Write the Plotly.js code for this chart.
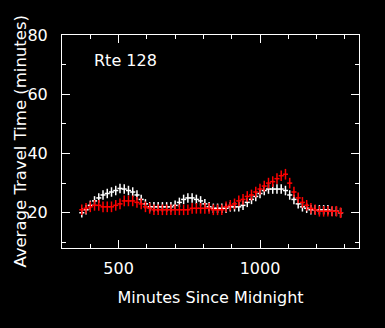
<!DOCTYPE html>
<html>
<head>
<meta charset="utf-8">
<script src="https://cdn.plot.ly/plotly-3.0.1.min.js"></script>
<style>html,body{margin:0;padding:0;background:#000;}#chart{width:385px;height:328px;}</style>
</head>
<body>
<div id="chart"></div>
<script>
var minutes = [370,385,400,415,430,445,460,475,490,505,520,535,550,565,580,595,610,625,640,655,670,685,700,715,730,745,760,775,790,805,820,835,850,865,880,895,910,925,940,955,970,985,1000,1015,1030,1045,1060,1075,1090,1105,1120,1135,1150,1165,1180,1195,1210,1225,1240,1255,1270,1285];
var whiteTimes = [20,21,22.5,24,25,26,26.5,27,27.5,28.2,28,27.5,27,26,24.5,23,22,22,22,22,22,22,22.5,23.5,24.5,25,25,24.5,24,23,22,21.5,21.5,21.5,21.5,22,22,22,22.5,23.5,24.5,25.5,26.5,27.5,28,28,28,28,27.5,26,24.5,23,22,21.5,21,21,21,21,21,20.5,20.5,20];
var redTimes = [21,21.5,22,22.5,22.5,22,22,22,22.5,23,24,24,24,23.5,23,22,21.5,21,21,21,21,21,21,21,21,21,21.5,21.5,21.5,21.5,21.5,21,21,21,22,22.5,23,24,24.5,25.5,26,27,28,29,30,30.5,31.5,32.5,33,30,27,25,23.5,22.5,21.5,21,20.5,20.5,20.5,20.5,20.5,20];
var xTickVals = [500,1000];
var yTickVals = [20,40,60,80];

var font = 'DejaVu Sans, sans-serif';
function series(y, color, ey) {
  return {
    x: minutes, y: y, type: 'scatter', mode: 'markers',
    marker: {size: 1, color: color},
    error_y: {type: 'constant', value: ey, width: 0, color: color, thickness: 1.5},
    error_x: {type: 'constant', value: 9, width: 0, color: color, thickness: 1.5},
    hoverinfo: 'skip', showlegend: false
  };
}
var data = [series(whiteTimes, '#ffffff', 1.6), series(redTimes, '#ff0000', 1.8)];
var axisCommon = {
  showgrid: false, zeroline: false, showline: true, linecolor: '#fff', linewidth: 1,
  mirror: 'allticks', ticks: 'inside', ticklen: 8, tickcolor: '#fff', tickwidth: 1,
  tickfont: {family: font, size: 16, color: '#fff'}
};
var layout = {
  width: 385, height: 328,
  paper_bgcolor: '#000', plot_bgcolor: '#000',
  margin: {l: 62, r: 26, t: 35, b: 80},
  xaxis: Object.assign({}, axisCommon, {
    range: [300, 1350], tickmode: 'array', tickvals: xTickVals, ticktext: xTickVals.map(String),
    ticklabelstandoff: 6,
    minor: {dtick: 100, tick0: 0, ticks: 'inside', ticklen: 4, tickcolor: '#fff'},
    title: {text: 'Minutes Since Midnight', font: {family: font, size: 16, color: '#fff'}, standoff: 14}
  }),
  yaxis: Object.assign({}, axisCommon, {
    range: [8.1, 80], tickmode: 'array', tickvals: yTickVals, ticktext: yTickVals.map(String),
    ticklabelstandoff: 10,
    minor: {dtick: 10, tick0: 0, ticks: 'inside', ticklen: 4, tickcolor: '#fff'}
  }),
  annotations: [{
    xref: 'paper', yref: 'paper', x: 0.1, y: 0.88, xanchor: 'left', yanchor: 'middle',
    text: 'Rte 128', showarrow: false, font: {family: font, size: 16, color: '#fff'}
  }, {
    xref: 'paper', yref: 'paper', x: -0.141, y: 0.5, xanchor: 'center', yanchor: 'middle',
    textangle: -90, text: 'Average Travel Time (minutes)', showarrow: false,
    font: {family: font, size: 16.5, color: '#fff'}
  }]
};
Plotly.newPlot('chart', data, layout, {staticPlot: true, displayModeBar: false});
</script>
</body>
</html>
